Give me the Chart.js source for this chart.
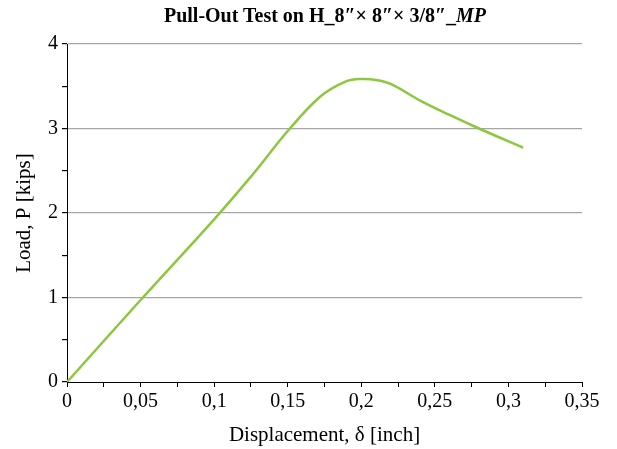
<!DOCTYPE html>
<html>
<head>
<meta charset="utf-8">
<script src="https://cdn.jsdelivr.net/npm/chart.js@4/dist/chart.umd.min.js"></script>
<style>
  html, body { margin: 0; padding: 0; background: #fff; }
  #wrap { position: relative; width: 617px; height: 449px; }
  #title { position: absolute; left: 0; top: 4px; width: 650px; text-align: center;
           font-family: "Liberation Serif", serif; font-weight: bold; font-size: 20px; color: #000; }
  canvas { position: absolute; left: 0; top: 0; }
</style>
</head>
<body>
<div id="wrap">
  <canvas id="c" width="617" height="449"></canvas>
  <div id="title">Pull-Out Test on H_8″× 8″× 3/8″_<i>MP</i></div>
</div>
<script>
const displacement = [0, 0.05, 0.1, 0.125, 0.15, 0.172, 0.19, 0.2, 0.21, 0.22, 0.24, 0.26, 0.28, 0.31];
const load = [0, 0.97, 1.925, 2.43, 2.97, 3.376, 3.56, 3.586, 3.575, 3.527, 3.33, 3.16, 3.0, 2.773];
const xTickLabels = ['0', '0,05', '0,1', '0,15', '0,2', '0,25', '0,3', '0,35'];
const yTickLabels = ['0', '1', '2', '3', '4'];

const serif = '"Liberation Serif", "Times New Roman", serif';
const points = displacement.map((x, i) => ({ x: x, y: load[i] }));

new Chart(document.getElementById('c'), {
  type: 'line',
  data: {
    datasets: [{
      label: 'Pull-Out',
      data: points,
      borderColor: '#8dc63f',
      borderWidth: 2.5,
      pointRadius: 0,
      fill: false,
      tension: 0.35
    }]
  },
  options: {
    responsive: false,
    animation: false,
    layout: { padding: { left: 0, right: 35, top: 44, bottom: 0 } },
    plugins: { legend: { display: false }, tooltip: { enabled: false }, title: { display: false } },
    scales: {
      x: {
        type: 'linear', min: 0, max: 0.35,
        afterFit: s => { s.height = 67; },
        border: { color: '#000', width: 1 },
        grid: { drawOnChartArea: false, tickLength: 5, tickColor: '#000' },
        ticks: {
          stepSize: 0.025, autoSkip: false, maxRotation: 0, padding: 3,
          color: '#000', font: { family: serif, size: 20 },
          callback: v => {
            const k = Math.round(v * 1000);
            if (k % 50 !== 0) return '';
            return xTickLabels[k / 50];
          }
        },
        title: { display: true, text: 'Displacement, δ [inch]', color: '#000', font: { family: serif, size: 21 }, padding: { top: 2, bottom: 1 } }
      },
      y: {
        type: 'linear', min: 0, max: 4,
        afterFit: s => { s.width = 67; },
        border: { color: '#000', width: 1 },
        grid: {
          tickLength: 5, tickColor: '#000',
          color: c => (Math.abs(c.tick.value - Math.round(c.tick.value)) < 1e-6 && c.tick.value > 0) ? '#a6a6a6' : 'rgba(0,0,0,0)',
          lineWidth: 1.2
        },
        ticks: {
          stepSize: 0.5, autoSkip: false, padding: 4,
          color: '#000', font: { family: serif, size: 20 },
          callback: v => {
            if (Math.abs(v - Math.round(v)) > 1e-6) return '';
            return yTickLabels[Math.round(v)];
          }
        },
        title: { display: true, text: 'Load, P [kips]', color: '#000', font: { family: serif, size: 21 }, padding: { top: 12, bottom: 2 } }
      }
    }
  }
});
</script>
</body>
</html>
